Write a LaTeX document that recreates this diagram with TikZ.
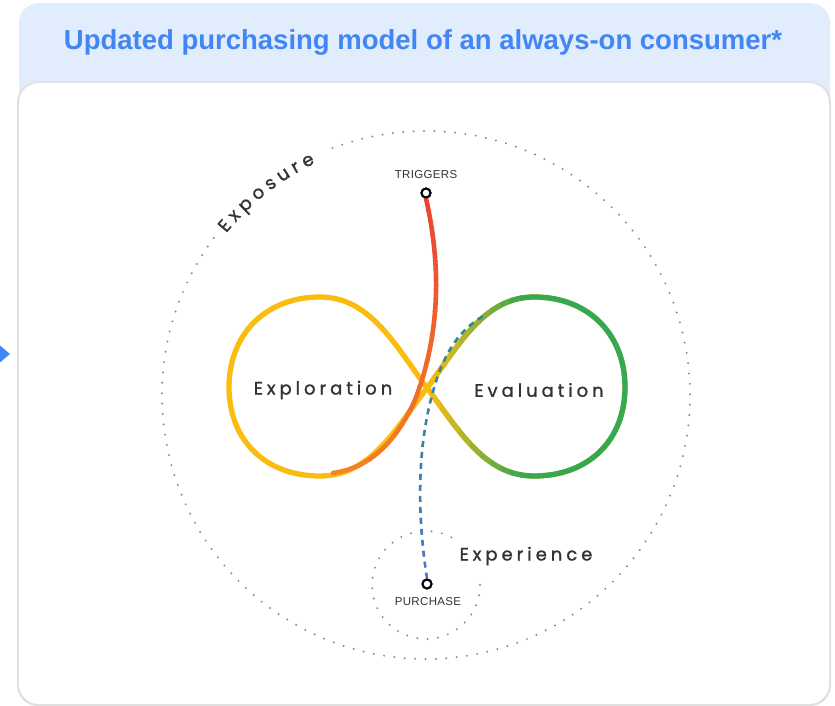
\documentclass[tikz,border=0pt]{standalone}
\usepackage{fontspec}
\setmainfont{Liberation Sans}
\newfontfamily\stagefont[LetterSpace=22, FakeBold=1.2]{Poppins}
\newfontfamily\tagfont[LetterSpace=3]{Liberation Sans}
\usetikzlibrary{decorations.text}

\definecolor{panelblue}{HTML}{E1ECFC}
\definecolor{titleblue}{HTML}{4285F4}
\definecolor{labelgray}{HTML}{333333}
\definecolor{dotgray}{HTML}{8A8A8A}
\definecolor{gyellow}{HTML}{FBBC10}
\definecolor{ggreen}{HTML}{34A853}
\definecolor{gred}{HTML}{EA4335}
\definecolor{gorange}{HTML}{F58A1F}
\definecolor{gblue}{HTML}{4A78C4}
\definecolor{gteal}{HTML}{2A8E80}

\tikzset{title/.style = {font=\bfseries\fontsize{27.5}{30}\selectfont, text=titleblue}}
\tikzset{stage/.style = {font=\stagefont\fontsize{18}{18}\selectfont, text=labelgray}}
\tikzset{tag/.style = {font=\tagfont\fontsize{11.5}{12}\selectfont, text=labelgray}}
\tikzset{marker/.style = {shape=circle, draw=black, fill=white, line width=2pt, minimum size=9pt, inner sep=0pt}}
\tikzset{dots/.style = {dotgray, line width=2.2pt, line cap=round, dash pattern=on 0pt off 10.4pt}}
\tikzset{loopline/.style = {line width=5.3pt}}
\tikzset{trigline/.style = {line width=4.6pt, line cap=round}}
\tikzset{buyline/.style = {line width=2.6pt, dash pattern=on 6pt off 5pt}}

\def\eightpath{(cross) .. controls (395,361) and (370,409) .. (320,409) .. controls (265,409) and (229,371) .. (229,319) .. controls (229,266) and (265,230) .. (320,230) .. controls (370,230) and (395,276) .. (cross) .. controls (459,361) and (484,409) .. (534,409) .. controls (589,409) and (625,371) .. (625,319) .. controls (625,266) and (589,230) .. (534,230) .. controls (484,230) and (459,276) .. (cross) -- cycle}
\def\redpath{(trig.south) .. controls (440,446) and (442,376) .. (415,306) .. controls (398,268) and (372,238) .. (redend)}
\def\dashpath{(purch.north) .. controls (418,186) and (414,266) .. (440,336) .. controls (452,366) and (468,382) .. (dashend)}

\begin{document}
\begin{tikzpicture}[x=1pt, y=1pt]
        \useasboundingbox (0,0) rectangle (835,706);
        \fill[panelblue, rounded corners=20pt] (19,380) rectangle (830,703);
        \node[title] (head) at (423,664) {Updated purchasing model of an always-on consumer*};
        \fill[black!12, rounded corners=21pt] (17,0) rectangle (831,624.5);
        \fill[white, rounded corners=20pt] (19,2) rectangle (829,623);
        \fill[titleblue] (-3,363) -- (10,352) -- (-3,341) -- cycle;

        \coordinate (world) at (426,311);
        \coordinate (exp) at (426,121);
        \coordinate (cross) at (427,318);
        \coordinate (redend) at (333,233);
        \coordinate (dashend) at (487,392);

        \draw[dots] (world) ++(143.5:264) arc[start angle=143.5, end angle=471.6, radius=264];
        \draw[dots] (exp) ++(62:54) arc[start angle=62, end angle=365, radius=54];
        \path[decorate, decoration={text along path, text align=fit to path, text color=labelgray,
            text={|\stagefont\fontsize{18}{18}\selectfont|Exposure}}]
            (world) ++(141:257) arc[start angle=141, end angle=115.5, radius=257];

        \node[marker] (trig) at (426,513) {};
        \node[marker] (purch) at (427,122) {};

        \draw[loopline, gyellow] \eightpath;
        \foreach \i [evaluate=\i as \p using int(95-\i*11)] in {0,...,8} {
          \begin{scope}
            \clip (430+\i*10,200) rectangle (441+\i*10,420);
            \draw[loopline, gyellow!\p!ggreen] \eightpath;
          \end{scope}
        }
        \begin{scope}
          \clip (520,200) rectangle (640,420);
          \draw[loopline, ggreen] \eightpath;
        \end{scope}

        \foreach \i [evaluate=\i as \p using int(100-\i*13)] in {0,...,7} {
          \begin{scope}
            \clip (380,115+\i*36) rectangle (500,152+\i*36);
            \draw[buyline, gblue!\p!gteal] \dashpath;
          \end{scope}
        }

        \foreach \i [evaluate=\i as \p using int(100-\i*8)] in {0,...,11} {
          \begin{scope}
            \clip (300,520-\i*25) rectangle (460,494-\i*25);
            \draw[trigline, gred!\p!gorange] \redpath;
          \end{scope}
        }

        \node[marker] at (trig) {};
        \node[marker] at (purch) {};
        \node[tag] (trigtxt) at (426,531) {TRIGGERS};
        \node[tag] (purchtxt) at (428,104) {PURCHASE};
        \node[stage] (explo) at (323,316) {Exploration};
        \node[stage] (evalu) at (539,316) {Evaluation};
        \node[stage] (exper) at (526,150) {Experience};
      \end{tikzpicture}
\end{document}
